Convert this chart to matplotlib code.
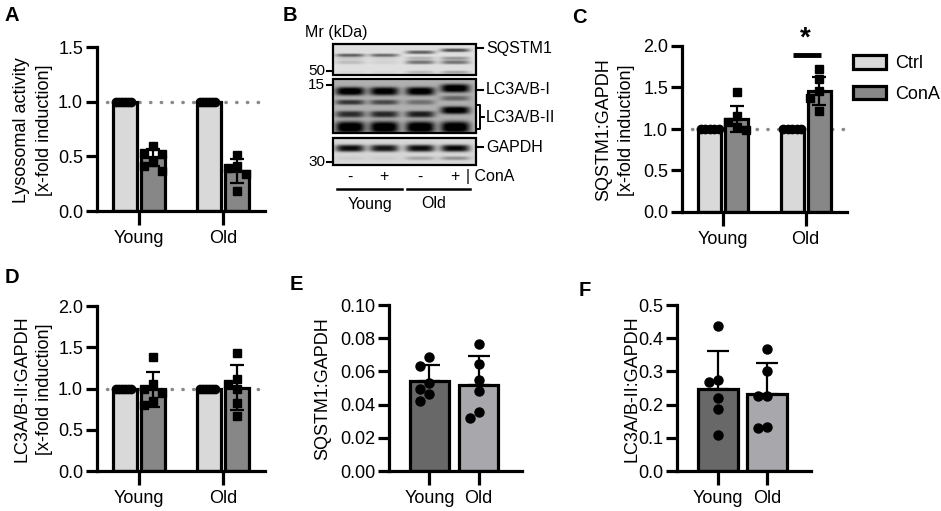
import numpy as np
import matplotlib
matplotlib.use("Agg")
import matplotlib.pyplot as plt
from matplotlib.patches import Patch, Rectangle

plt.rcParams['font.family'] = ['Liberation Sans', 'DejaVu Sans']
plt.rcParams['font.size'] = 13

grupos = ["Young", "Old"]

# A - atividade lisossomal (x-fold)
a_ctrl = [1.0, 1.0]
a_ctrl_pts = [[1.0, 1.0, 1.0, 1.0, 1.0, 1.0], [1.0, 1.0, 1.0, 1.0, 1.0, 1.0]]
a_cona = [0.49, 0.37]
a_cona_sd = [0.08, 0.11]
a_cona_pts = [[0.59, 0.53, 0.52, 0.45, 0.41, 0.37], [0.51, 0.41, 0.39, 0.34, 0.18]]

# C - SQSTM1:GAPDH (x-fold)
c_ctrl = [1.0, 1.0]
c_ctrl_pts = [[1.0, 1.0, 1.0, 1.0, 1.0], [1.0, 1.0, 1.0, 1.0, 1.0]]
c_cona = [1.12, 1.46]
c_cona_sd = [0.16, 0.17]
c_cona_pts = [[1.44, 1.16, 1.09, 1.03, 0.99], [1.72, 1.60, 1.46, 1.37, 1.22]]

# D - LC3A/B-II:GAPDH (x-fold)
d_ctrl = [1.0, 1.0]
d_ctrl_pts = [[1.0, 1.0, 1.0, 1.0, 1.0, 1.0], [1.0, 1.0, 1.0, 1.0, 1.0, 1.0]]
d_cona = [0.99, 1.01]
d_cona_sd = [0.21, 0.27]
d_cona_pts = [[1.38, 1.05, 0.99, 0.95, 0.85, 0.80], [1.43, 1.12, 1.05, 1.00, 0.82, 0.67]]

# E - SQSTM1:GAPDH
e_media = [0.054, 0.052]
e_sd = [0.010, 0.017]
e_pts = [[0.0685, 0.0633, 0.0532, 0.0492, 0.0464, 0.0424],
         [0.0765, 0.0643, 0.0548, 0.0484, 0.0353, 0.0321]]

# F - LC3A/B-II:GAPDH
f_media = [0.248, 0.231]
f_sd = [0.112, 0.094]
f_pts = [[0.438, 0.274, 0.269, 0.219, 0.186, 0.108],
         [0.367, 0.302, 0.226, 0.226, 0.134, 0.129]]

# western blot (B): caixas (topo, base, fundo) e bandas (y, sigma, intensidade por raia)
blot_caixas = [(44, 75, 224), (79, 133, 176), (138, 165, 215)]
blot_bandas = [
    (55, 1.3, [130, 120, 0, 0]),
    (52, 1.4, [0, 0, 130, 0]),
    (50, 1.4, [0, 0, 0, 150]),
    (58, 1.3, [25, 15, 45, 75]),
    (62, 1.6, [35, 15, 110, 110]),
    (72, 1.3, [10, 10, 40, 60]),
    (91, 3.3, [200, 190, 195, 0]),
    (88, 3.3, [0, 0, 0, 200]),
    (102, 2.0, [125, 105, 65, 0]),
    (98, 2.0, [0, 0, 0, 75]),
    (114, 2.6, [135, 140, 150, 0]),
    (110, 3.0, [0, 0, 0, 195]),
    (127, 4.6, [210, 210, 210, 210]),
    (148, 2.8, [205, 195, 205, 210]),
    (158, 1.5, [10, 10, 50, 70]),
]
blot_raias = [350, 384, 420, 455]
blot_sinais = ["-", "+", "-", "+"]

COR_CTRL = "#d9d9d9"
COR_CONA = "#878787"
COR_YOUNG = "#686868"
COR_OLD = "#a8a7ac"

W, H = 941, 511
fig = plt.figure(figsize=(W / 100, H / 100), dpi=100)


def rect(l, t, r, b):
    return [l / W, 1 - b / H, (r - l) / W, (b - t) / H]


def estilo(ax):
    for s in ['top', 'right']:
        ax.spines[s].set_visible(False)
    for s in ['left', 'bottom']:
        ax.spines[s].set_linewidth(2.3)
    ax.tick_params(axis='y', length=8, width=2.3, pad=2, labelsize=13)
    ax.tick_params(axis='x', length=10, width=2.3, pad=4, labelsize=13)
    ax.set_facecolor('none')


def enxame(ax, x0, valores, meia_larg, passo_px=9):
    # espalha os pontos na horizontal quando se sobrepõem (estilo beeswarm)
    ax.figure.canvas.draw()
    tr = ax.transData
    dx = tr.inverted().transform((passo_px, 0))[0] - tr.inverted().transform((0, 0))[0]
    ypx = [tr.transform((0, v))[1] for v in valores]
    offs = []
    for i, v in enumerate(valores):
        for k in [0, -1, 1, -2, 2, -3, 3, -4, 4]:
            ok = True
            for j, o in enumerate(offs):
                if abs(ypx[j] - ypx[i]) < passo_px and abs(o - k) < 1:
                    ok = False
                    break
            if ok:
                offs.append(k)
                break
    offs = np.array(offs, dtype=float) * dx
    m = np.abs(offs).max()
    if m > meia_larg:
        offs = offs * meia_larg / m
    return x0 + offs


def painel_fold(ax, ctrl, ctrl_pts, cona, cona_sd, cona_pts, ymax):
    x = np.arange(len(grupos))
    larg = 0.28
    d = 0.165
    estilo(ax)
    ax.set_xlim(-0.5, 1.5)
    ax.set_ylim(0, ymax)
    ax.set_yticks(np.arange(0, ymax + 0.01, 0.5))
    ax.yaxis.set_major_formatter(matplotlib.ticker.FormatStrFormatter('%.1f'))
    ax.set_xticks(x)
    ax.set_xticklabels(grupos)
    ax.axhline(1.0, xmin=0.06, xmax=1.0, color='#8a8a8a', lw=2.5, ls=(0, (0.1, 3.0)),
               dash_capstyle='round', zorder=1)
    ax.bar(x - d, ctrl, width=larg, color=COR_CTRL, edgecolor='black', linewidth=2.3, zorder=2)
    ax.bar(x + d, cona, width=larg, color=COR_CONA, edgecolor='black', linewidth=2.3, zorder=2)
    for i in range(len(grupos)):
        xs = enxame(ax, x[i] - d, ctrl_pts[i], larg / 2 - 0.03)
        ax.plot(xs, ctrl_pts[i], 'o', color='black', ms=6, zorder=3, clip_on=False)
        xs = enxame(ax, x[i] + d, cona_pts[i], larg / 2 - 0.03)
        ax.plot(xs, cona_pts[i], 's', color='black', ms=6, zorder=3)
    ax.errorbar(x + d, cona, yerr=cona_sd, fmt='none', ecolor='black', elinewidth=1.6,
                capsize=5, capthick=1.6, zorder=4)


def painel_abs(ax, media, sd, pts, ymax, passo, fmt):
    x = np.arange(len(grupos))
    larg = 0.8
    estilo(ax)
    ax.set_xlim(-0.82, 1.88)
    ax.set_ylim(0, ymax)
    ax.set_yticks(np.arange(0, ymax + passo / 10, passo))
    ax.yaxis.set_major_formatter(matplotlib.ticker.FormatStrFormatter(fmt))
    ax.set_xticks(x)
    ax.set_xticklabels(grupos)
    ax.bar(x, media, width=larg, color=[COR_YOUNG, COR_OLD], edgecolor='black', linewidth=2.3, zorder=2)
    ax.errorbar(x, media, yerr=[[0, 0], sd], fmt='none', ecolor='black', elinewidth=1.6,
                capsize=8, capthick=1.6, zorder=3)
    for i in range(len(grupos)):
        xs = enxame(ax, x[i], pts[i], larg / 2 - 0.08)
        ax.plot(xs, pts[i], 'o', color='black', ms=6.5, zorder=4)


# ---- painéis de barras ----
axA = fig.add_axes(rect(97, 47, 265, 211))
painel_fold(axA, a_ctrl, a_ctrl_pts, a_cona, a_cona_sd, a_cona_pts, 1.5)

axC = fig.add_axes(rect(682, 46, 847, 212))
painel_fold(axC, c_ctrl, c_ctrl_pts, c_cona, c_cona_sd, c_cona_pts, 2.0)
axC.plot([0.84, 1.18], [1.89, 1.89], color='black', lw=3.5, solid_capstyle='butt', clip_on=False)
axC.text(1.0, 1.93, "*", ha='center', va='bottom', fontsize=20, fontweight='bold')

axD = fig.add_axes(rect(97, 306, 265, 471))
painel_fold(axD, d_ctrl, d_ctrl_pts, d_cona, d_cona_sd, d_cona_pts, 2.0)

axE = fig.add_axes(rect(389, 305, 522, 471))
painel_abs(axE, e_media, e_sd, e_pts, 0.10, 0.02, '%.2f')

axF = fig.add_axes(rect(677, 305, 811, 471))
painel_abs(axF, f_media, f_sd, f_pts, 0.5, 0.1, '%.1f')

# legenda
alcas = [Patch(facecolor=COR_CTRL, edgecolor='black', linewidth=2.3, label='Ctrl'),
         Patch(facecolor=COR_CONA, edgecolor='black', linewidth=2.3, label='ConA')]
fig.legend(handles=alcas, loc='upper left', bbox_to_anchor=(846 / W, 1 - 48 / H),
           frameon=False, fontsize=13, handlelength=1.8, handleheight=0.75,
           labelspacing=0.75, handletextpad=0.5, borderaxespad=0)

# ---- camada de texto / blot em pixels ----
ov = fig.add_axes([0, 0, 1, 1], zorder=-1)
ov.set_xlim(0, W)
ov.set_ylim(H, 0)
ov.axis('off')


def ytxt(x, y, s, **kw):
    ov.text(x, y, s, rotation=90, ha='center', va='center', fontsize=13, **kw)


ytxt(33, 130, "Lysosomal activity\n[x-fold induction]", linespacing=1.45)
ytxt(615, 130, "SQSTM1:GAPDH\n[x-fold induction]", linespacing=1.45)
ytxt(33, 389, "LC3A/B-II:GAPDH\n[x-fold induction]", linespacing=1.45)
ytxt(323, 389, "SQSTM1:GAPDH")
ytxt(632, 389, "LC3A/B-II:GAPDH")

for letra, (lx, ly) in zip("ABCDEF", [(5, 6), (283, 6), (572, 8), (5, 268), (290, 275), (579, 281)]):
    ov.text(lx, ly, letra, fontsize=14.5, fontweight='bold', ha='left', va='top')

# imagem sintetica do blot
x0, x1 = 333, 476
y0, y1 = 44, 165
xx = np.arange(x0, x1, 0.5)
yy = np.arange(y0, y1, 0.5)
img = np.full((len(yy), len(xx)), 255.0)
XX, YY = np.meshgrid(xx, yy)
for topo, base, fundo in blot_caixas:
    m = (YY >= topo) & (YY <= base)
    img[m] = fundo
    for yb, sig, ints in blot_bandas:
        if not (topo <= yb <= base):
            continue
        for cx, it in zip(blot_raias, ints):
            perfil = np.exp(-(np.abs(XX - cx) / 14.5) ** 4) * np.exp(-(np.abs(YY - yb) / sig) ** 3 / 2)
            img[m] -= (it * perfil)[m]
img = np.clip(img, 0, 255)
ov.imshow(img, cmap='gray', vmin=0, vmax=255, extent=(x0, x1, y1, y0), aspect='auto',
          interpolation='bilinear')
for topo, base, fundo in blot_caixas:
    ov.add_patch(Rectangle((x0, topo), x1 - x0, base - topo, fill=False, edgecolor='black', lw=1.6))

fs_b = 11.5
ov.text(305, 32, "Mr (kDa)", fontsize=fs_b, ha='left', va='center')
for lab, ym in [("50", 71), ("15", 85), ("30", 162)]:
    ov.plot([327, x0], [ym, ym], color='black', lw=1.5)
    ov.text(325, ym, lab, fontsize=11, ha='right', va='center')
for lab, ym in [("SQSTM1", 48), ("LC3A/B-I", 90), ("GAPDH", 147)]:
    ov.plot([x1, x1 + 7], [ym, ym], color='black', lw=1.5)
    ov.text(x1 + 10, ym, lab, fontsize=fs_b, ha='left', va='center')
# chave do LC3A/B-II
ov.plot([x1 + 1, x1 + 4, x1 + 4, x1 + 1], [105, 105, 129, 129], color='black', lw=1.4)
ov.plot([x1 + 4, x1 + 8], [117, 117], color='black', lw=1.4)
ov.text(x1 + 10, 117, "LC3A/B-II", fontsize=fs_b, ha='left', va='center')

for cx, s in zip(blot_raias, blot_sinais):
    ov.text(cx, 177, s, fontsize=fs_b, ha='center', va='center')
ov.text(466, 177, "| ConA", fontsize=fs_b, ha='left', va='center')
ov.plot([337, 402], [189, 189], color='black', lw=1.8)
ov.plot([407, 470], [189, 189], color='black', lw=1.8)
ov.text(370, 204, grupos[0], fontsize=fs_b, ha='center', va='center')
ov.text(434, 204, grupos[1], fontsize=fs_b, ha='center', va='center')

fig.savefig("out.png", dpi=100)
